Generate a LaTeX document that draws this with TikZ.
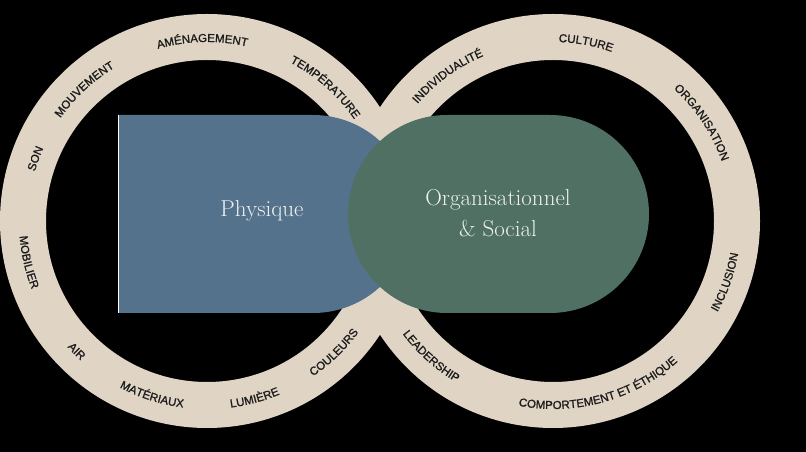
\documentclass[tikz,border=0pt]{standalone}
\usepackage{fontspec}
\newfontfamily\lblfont[FakeBold=1.2]{Liberation Sans}
\usetikzlibrary{decorations.text}
\definecolor{ringc}{HTML}{E0D5C5}
\definecolor{bluec}{HTML}{55728D}
\definecolor{greenc}{HTML}{4F7063}
\definecolor{txtc}{HTML}{EEF2EF}
\definecolor{lblc}{HTML}{1C1C1C}
\newcommand{\cwlabel}[3]{%
  \path[decorate, decoration={text along path, text align=center, text color=lblc,
    text={|\lblfont\fontsize{11.5}{12}\selectfont|#3}}]
    (#1) ++(#2+70:179) arc[start angle=#2+70, end angle=#2-70, radius=179];}
\newcommand{\ccwlabel}[3]{%
  \path[decorate, decoration={text along path, text align=center, text color=lblc,
    text={|\lblfont\fontsize{11.5}{12}\selectfont|#3}}]
    (#1) ++(#2-70:188) arc[start angle=#2-70, end angle=#2+70, radius=188];}
\begin{document}
\begin{tikzpicture}[x=1pt,y=1pt,
  inner/.style={text=txtc, font=\fontsize{23}{31}\selectfont, align=center}]
\fill[black] (0,0) rectangle (806,452);
\useasboundingbox (0,0) rectangle (806,452);
\coordinate (L) at (207,231);
\coordinate (R) at (553,231);
\draw[ringc, line width=46pt] (L) circle[radius=184];
\draw[ringc, line width=46pt] (R) circle[radius=184];
% shapes
\fill[bluec] (118,139) -- (313,139) arc[start angle=-90, end angle=90, radius=99] -- (118,337) -- cycle;
\draw[white, line width=1pt] (118.5,139) -- (118.5,337);
\fill[greenc, rounded corners=99pt] (348,139) rectangle (649,337);
\node[inner] (phys) at (262,241) {Physique};
\node[inner] (org) at (498,239) {Organisationnel\\\& Social};
% left ring labels
\cwlabel{L}{160}{SON}
\cwlabel{L}{133}{MOUVEMENT}
\cwlabel{L}{91.5}{AMÉNAGEMENT}
\cwlabel{L}{48.5}{TEMPÉRATURE}
\ccwlabel{L}{193}{MOBILIER}
\ccwlabel{L}{225}{AIR}
\ccwlabel{L}{252.5}{MATÉRIAUX}
\ccwlabel{L}{285}{LUMIÈRE}
\ccwlabel{L}{314}{COULEURS}
% right ring labels
\cwlabel{R}{126}{INDIVIDUALITÉ}
\cwlabel{R}{79.5}{CULTURE}
\cwlabel{R}{33.5}{ORGANISATION}
\ccwlabel{R}{340.5}{INCLUSION}
\ccwlabel{R}{285.5}{COMPORTEMENT ET ÉTHIQUE}
\ccwlabel{R}{228}{LEADERSHIP}
\end{tikzpicture}
\end{document}
